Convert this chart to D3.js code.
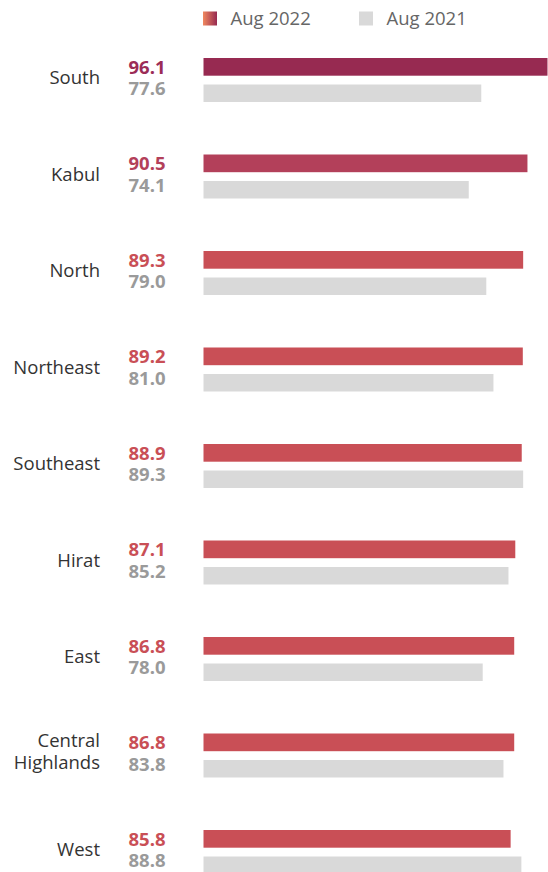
<!DOCTYPE html>
<html>
<head>
<meta charset="utf-8">
<script src="https://cdn.jsdelivr.net/npm/d3@7"></script>
<style>
  html, body { margin: 0; padding: 0; background: #fff; }
  svg { display: block; font-family: "Open Sans", "Noto Sans", sans-serif; }
</style>
</head>
<body>
<svg id="chart" width="548" height="872"></svg>
<script>
// Regions, ordered as shown
const regions = ["South", "Kabul", "North", "Northeast", "Southeast", "Hirat", "East", "Central Highlands", "West"];
// Share (%) for each period
const aug2022 = [96.1, 90.5, 89.3, 89.2, 88.9, 87.1, 86.8, 86.8, 85.8];
const aug2021 = [77.6, 74.1, 79.0, 81.0, 89.3, 85.2, 78.0, 83.8, 88.8];
const seriesNames = ["Aug 2022", "Aug 2021"];

const svg = d3.select("#chart");
const FS = 18.5;

const x = d3.scaleLinear().domain([0, 96.1]).range([203.5, 547.5]);
const y = d3.scaleBand().domain(regions).range([58, 58 + regions.length * 96.5]).paddingInner(0);

// Current-year bars shade darker as the value rises
const redColor = d3.scaleLinear()
  .domain([89.3, 90.5, 96.1])
  .range(["#c94f56", "#b3405a", "#972a51"])
  .clamp(true);
const labelColor = d3.scaleLinear()
  .domain([89.3, 90.5, 96.1])
  .range(["#c94f56", "#b3405a", "#9b2c57"])
  .clamp(true);
const grey = "#d9d9d9";
const greyText = "#9a9a9a";

const data = regions.map((r, i) => ({ region: r, v22: aug2022[i], v21: aug2021[i] }));

// Legend
const defs = svg.append("defs");
const grad = defs.append("linearGradient").attr("id", "legGrad").attr("x1", "0%").attr("x2", "100%");
grad.append("stop").attr("offset", "0%").attr("stop-color", "#f0885f");
grad.append("stop").attr("offset", "100%").attr("stop-color", "#962a51");

const legend = svg.append("g");
const legItems = [
  { name: seriesNames[0], fill: "url(#legGrad)", x: 203 },
  { name: seriesNames[1], fill: grey, x: 359 }
];
legItems.forEach(it => {
  legend.append("rect").attr("x", it.x).attr("y", 11.5).attr("width", 14).attr("height", 14).attr("fill", it.fill);
  legend.append("text").attr("x", it.x + 27.5).attr("y", 25)
    .attr("font-size", FS).attr("fill", "#666").text(it.name);
});

const rows = svg.append("g").selectAll("g").data(data).join("g")
  .attr("transform", d => `translate(0,${y(d.region)})`);

// Aug 2022 bars
rows.append("rect")
  .attr("x", x(0)).attr("y", 0)
  .attr("width", d => x(d.v22) - x(0)).attr("height", 17.7)
  .attr("fill", d => redColor(d.v22));

// Aug 2021 bars
rows.append("rect")
  .attr("x", x(0)).attr("y", 26.5)
  .attr("width", d => x(d.v21) - x(0)).attr("height", 17.5)
  .attr("fill", grey);

// Value labels
rows.append("text")
  .attr("x", 165.5).attr("y", 15.5).attr("text-anchor", "end")
  .attr("font-size", FS).attr("font-weight", 700)
  .attr("fill", d => labelColor(d.v22))
  .text(d => d.v22.toFixed(1));
rows.append("text")
  .attr("x", 165.5).attr("y", 37).attr("text-anchor", "end")
  .attr("font-size", FS).attr("font-weight", 700)
  .attr("fill", greyText)
  .text(d => d.v21.toFixed(1));

// Region names, wrapping two-word names onto two lines
rows.each(function(d) {
  const g = d3.select(this);
  const words = d.region.split(" ");
  if (words.length > 1) {
    words.forEach((w, i) => {
      g.append("text").attr("x", 100).attr("y", 13.5 + i * 21.8).attr("text-anchor", "end")
        .attr("font-size", FS).attr("fill", "#333").text(w);
    });
  } else {
    g.append("text").attr("x", 100).attr("y", 26).attr("text-anchor", "end")
      .attr("font-size", FS).attr("fill", "#333").text(d.region);
  }
});
</script>
</body>
</html>
